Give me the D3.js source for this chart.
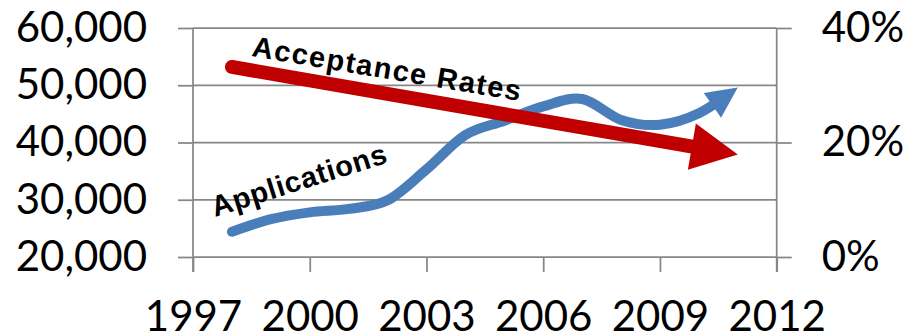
<!DOCTYPE html>
<html>
<head>
<meta charset="utf-8">
<script src="https://cdn.jsdelivr.net/npm/d3@7"></script>
<style>
  html, body { margin: 0; padding: 0; background: #fff; }
  svg { display: block; }
  .tick text { font-family: Lato, "Open Sans", sans-serif; font-size: 42px; fill: #000; }
  .lbl { font-family: "Liberation Sans", Arial, sans-serif; font-weight: bold; fill: #000; }
</style>
</head>
<body>
<svg id="chart" width="916" height="335"></svg>
<script>
// ---- data ----
const appYears = [1998, 1999, 2000, 2001, 2002, 2003, 2004, 2005, 2006, 2007, 2008, 2009, 2010, 2011];
const appValues = [24400, 26600, 27800, 28400, 29900, 35300, 41300, 43800, 46300, 47600, 43950, 43100, 45100, 49600];
const rateYears = [1998, 2011];
const rateValues = [0.332, 0.179];
const xTicks = [1997, 2000, 2003, 2006, 2009, 2012];
const leftTicks = [20000, 30000, 40000, 50000, 60000];
const rightTicks = [0, 0.2, 0.4];
const labelApps = "Applications";
const labelRates = "Acceptance Rates";

// ---- layout ----
const svg = d3.select("#chart");
const x = d3.scaleLinear().domain([1997, 2012]).range([193, 776.7]);
const yL = d3.scaleLinear().domain([20000, 60000]).range([257, 28]);
const yR = d3.scaleLinear().domain([0, 0.4]).range([257, 28]);
const gridColor = "#878787";

// gridlines
svg.append("g").selectAll("line").data(leftTicks).join("line")
  .attr("x1", x.range()[0]).attr("x2", x.range()[1])
  .attr("y1", d => yL(d)).attr("y2", d => yL(d))
  .attr("stroke", gridColor).attr("stroke-width", 1.75);

// left axis
const axL = svg.append("g").attr("transform", `translate(${x.range()[0]},0)`)
  .call(d3.axisLeft(yL).tickValues(leftTicks).tickSize(15).tickPadding(31)
    .tickFormat(d3.format(",")));
// right axis
const axR = svg.append("g").attr("transform", `translate(${x.range()[1]},0)`)
  .call(d3.axisRight(yR).tickValues(rightTicks).tickSize(15).tickPadding(30)
    .tickFormat(d3.format(".0%")));
// bottom axis
const axB = svg.append("g").attr("transform", `translate(0,${yL.range()[0]})`)
  .call(d3.axisBottom(x).tickValues(xTicks).tickSize(15).tickFormat(d3.format("d")));
axB.selectAll(".tick text").attr("y", 74).attr("dy", 0);

[axL, axR, axB].forEach(a => {
  a.select(".domain").remove();
  a.selectAll(".tick line").attr("stroke", gridColor).attr("stroke-width", 1.75);
  a.selectAll(".tick text").style("font-family", "Lato, 'Open Sans', sans-serif").style("font-size", "42px").attr("fill", "#000");
});
// vertical axis lines
[x.range()[0], x.range()[1]].forEach(px => {
  svg.append("line").attr("x1", px).attr("x2", px).attr("y1", yL.range()[1]).attr("y2", yL.range()[0] + 15)
    .attr("stroke", gridColor).attr("stroke-width", 1.75);
});

// arrow series helper
function arrowSeries(points, curve, color, width, headLen, headHalf) {
  const line = d3.line().x(d => d[0]).y(d => d[1]).curve(curve);
  const path = svg.append("path").attr("d", line(points))
    .attr("fill", "none").attr("stroke", color).attr("stroke-width", width)
    .attr("stroke-linecap", "round").attr("stroke-linejoin", "round");
  const L = path.node().getTotalLength();
  const tip = path.node().getPointAtLength(L);
  const base = path.node().getPointAtLength(L - headLen);
  path.attr("stroke-dasharray", `${L - headLen + 2} ${L}`);
  const dx = tip.x - base.x, dy = tip.y - base.y;
  const len = Math.hypot(dx, dy);
  const ux = dx / len, uy = dy / len;
  const bx = tip.x - ux * headLen, by = tip.y - uy * headLen;
  const pts = [
    [tip.x, tip.y],
    [bx - uy * headHalf, by + ux * headHalf],
    [bx + uy * headHalf, by - ux * headHalf]
  ];
  svg.append("polygon").attr("points", pts.map(p => p.join(",")).join(" ")).attr("fill", color);
}

// Applications (left axis) smoothed
arrowSeries(appYears.map((yr, i) => [x(yr), yL(appValues[i])]),
  d3.curveCardinal.tension(0), "#4a7ebb", 10, 31, 15);
// Acceptance rates (right axis)
arrowSeries(rateYears.map((yr, i) => [x(yr), yR(rateValues[i])]),
  d3.curveLinear, "#c00000", 14, 46.6, 23.4);

// labels
svg.append("text").attr("class", "lbl").attr("font-size", 29)
  .attr("transform", "translate(251,56) rotate(9.5)")
  .attr("textLength", 272).attr("lengthAdjust", "spacing")
  .text(labelRates);
svg.append("text").attr("class", "lbl").attr("font-size", 29)
  .attr("transform", "translate(215,217) rotate(-17.5)")
  .attr("textLength", 182).attr("lengthAdjust", "spacing")
  .text(labelApps);
</script>
</body>
</html>
